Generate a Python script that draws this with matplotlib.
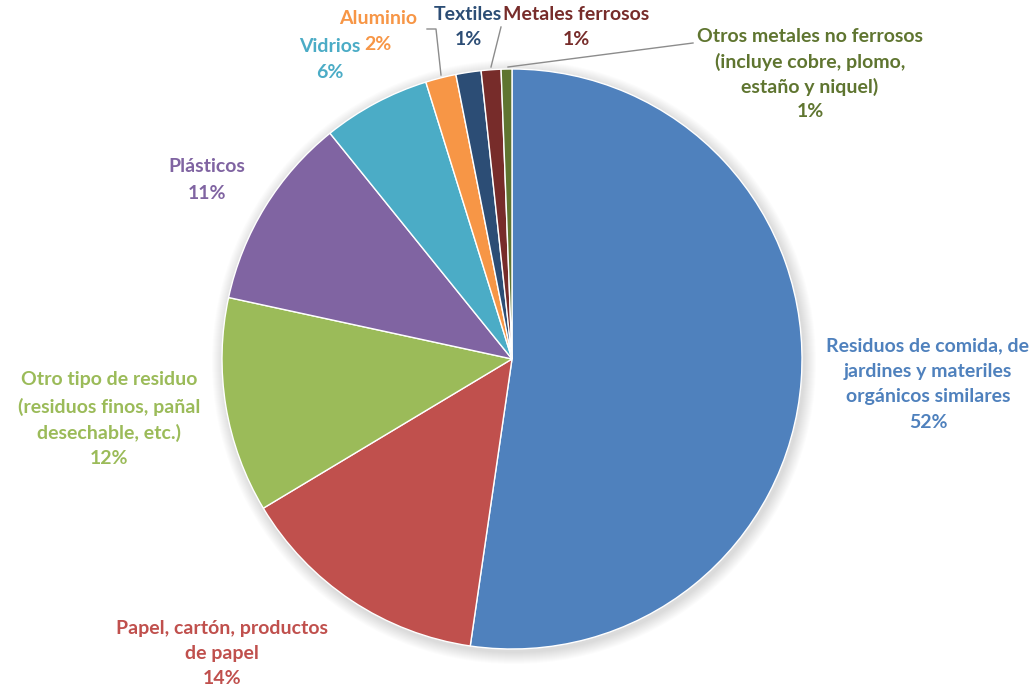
import matplotlib.pyplot as plt
from matplotlib.patches import Circle

# datos (porcentaje de residuos)
categorias = ["Residuos de comida, de\njardines y materiles\norgánicos similares",
              "Papel, cartón, productos\nde papel",
              "Otro tipo de residuo\n(residuos finos, pañal\ndesechable, etc.)",
              "Plásticos",
              "Vidrios",
              "Aluminio",
              "Textiles",
              "Metales ferrosos",
              "Otros metales no ferrosos\n(incluye cobre, plomo,\nestaño y niquel)"]
valores = [52.3, 14.1, 12.0, 10.8, 6.0, 1.7, 1.4, 1.1, 0.6]
colores = ["#4F81BD", "#C0504D", "#9BBB59", "#8064A2", "#4BACC6",
           "#F79646", "#2C4D75", "#772C2A", "#5F7530"]

W, H = 1035, 689


def pix(x, y):
    # coordenadas de imagen -> coordenadas de datos
    return x, H - y


fig = plt.figure(figsize=(W / 100, H / 100), dpi=100)
ax = fig.add_axes([0, 0, 1, 1])

cx, cy = pix(512, 359)
R = 290

# sombra suave
for i in range(12):
    ax.add_patch(Circle((cx + 2, cy - 3), R + 12 - i, color="black",
                        alpha=0.012, lw=0, zorder=0))

ax.pie(valores, colors=colores, startangle=90, counterclock=False,
       center=(cx, cy), radius=R,
       wedgeprops=dict(edgecolor="white", linewidth=1.0, zorder=2))

ax.set_xlim(0, W)
ax.set_ylim(0, H)
ax.set_aspect("equal")
ax.axis("off")

# posiciones de etiquetas (centro, y de la primera línea)
pos = [(928, 337), (222, 620), (109, 371), (207, 158), (330, 38),
       (378, 10), (468, 6), (576, 6), (810, 28)]
alts = [25.5, 25, 26.5, 27, 26, 26, 25, 25, 25]

for cat, v, c, (x, y), lh in zip(categorias, valores, colores, pos, alts):
    lines = cat.split("\n") + ["%.0f%%" % v]
    for k, t in enumerate(lines):
        xx, yy = pix(x, y + k * lh)
        ax.text(xx, yy, t, color=c, fontsize=14, fontweight="bold",
                family="Lato", ha="center", va="top")

# líneas guía
lc = "#8c8c8c"
ax.plot(*zip(pix(427, 29), pix(436, 29), pix(441, 75)), color=lc, lw=1)
ax.plot(*zip(pix(501, 27), pix(491, 67)), color=lc, lw=1)
ax.plot(*zip(pix(693, 43), pix(508, 67)), color=lc, lw=1)

plt.savefig("out.png", dpi=100)
plt.close("all")
